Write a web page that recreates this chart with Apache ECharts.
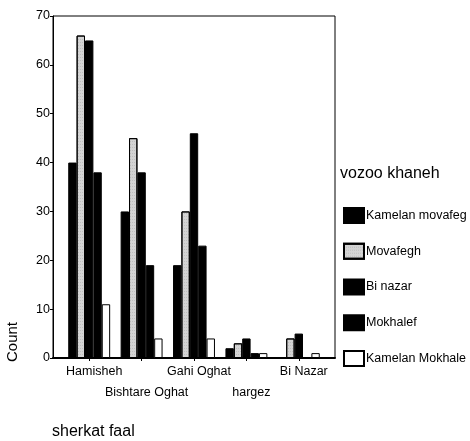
<!DOCTYPE html>
<html>
<head>
<meta charset="utf-8">
<script src="https://cdn.jsdelivr.net/npm/echarts@6/dist/echarts.min.js"></script>
<style>html,body{margin:0;padding:0;background:#fff;}#c{width:470px;height:441px;}</style>
</head>
<body>
<div id="c"></div>
<script>
var categories = ['Hamisheh', 'Bishtare Oghat', 'Gahi Oghat', 'hargez', 'Bi Nazar'];
var seriesNames = ['Kamelan movafeg', 'Movafegh', 'Bi nazar', 'Mokhalef', 'Kamelan Mokhale'];
var kamelanMovafeg = [40, 30, 19, 2, 0];
var movafegh = [66, 45, 30, 3, 4];
var biNazar = [65, 38, 46, 4, 5];
var mokhalef = [38, 19, 23, 1, 0];
var kamelanMokhale = [11, 4, 4, 1, 1];
var yTicks = [0, 10, 20, 30, 40, 50, 60, 70];

var FONT = 'Liberation Sans, Arial, sans-serif';
var seriesData = [kamelanMovafeg, movafegh, biNazar, mokhalef, kamelanMokhale];
var styles = [
  {color: '#000', borderColor: '#000', borderWidth: 1},
  {color: '#d4d4d4', borderColor: '#000', borderWidth: 1,
   decal: {symbol: 'rect', color: 'rgba(90,90,90,0.55)', symbolSize: 0.6, dashArrayX: [1, 1], dashArrayY: [1, 2], rotation: 0}},
  {color: '#000', borderColor: '#000', borderWidth: 1},
  {color: '#000', borderColor: '#000', borderWidth: 1},
  {color: '#fff', borderColor: '#000', borderWidth: 1}
];

var series = seriesNames.map(function (n, i) {
  return {
    name: n, type: 'bar', xAxisIndex: 1, yAxisIndex: 1,
    data: seriesData[i], barGap: '0%', barCategoryGap: '20%',
    itemStyle: styles[i], emphasis: {disabled: true}
  };
});

var chart = echarts.init(document.getElementById('c'), null, {renderer: 'canvas'});
chart.setOption({
  animation: false,
  backgroundColor: '#fff',
  textStyle: {fontFamily: FONT},
  title: [
    {text: 'vozoo khaneh', left: 340, top: 166, padding: 0, textStyle: {fontFamily: FONT, fontSize: 16, fontWeight: 'normal', color: '#000'}},
    {text: 'sherkat faal', left: 52, top: 424, padding: 0, textStyle: {fontFamily: FONT, fontSize: 16, fontWeight: 'normal', color: '#000'}}
  ],
  legend: {
    orient: 'vertical', left: 343, top: 207, itemWidth: 20, itemHeight: 15, itemGap: 18.75,
    padding: 0, icon: 'rect', selectedMode: false,
    textStyle: {fontFamily: FONT, fontSize: 12.5, color: '#000', padding: [0, 0, 0, -3]},
    data: seriesNames
  },
  grid: [
    {left: 53, top: 16, width: 282, height: 342, show: true, borderColor: '#000', borderWidth: 1, containLabel: false},
    {left: 63, top: 16, width: 262, height: 342, containLabel: false}
  ],
  xAxis: [
    {type: 'value', gridIndex: 0, position: 'top', min: 0, max: 1,
     axisLine: {show: true, lineStyle: {color: '#000', width: 2}},
     axisTick: {show: false}, axisLabel: {show: false}, splitLine: {show: false}},
    {type: 'category', gridIndex: 1, data: categories,
     axisLine: {show: false},
     axisTick: {show: true, alignWithLabel: true, length: 3, lineStyle: {color: '#000'}},
     axisLabel: {
       interval: 0, margin: 3, color: '#000', fontFamily: FONT, fontSize: 12.5, lineHeight: 21,
       padding: [0, 0, 0, 10],
       formatter: function (v, i) { return i % 2 === 1 ? '\n' + v : v; }
     },
     splitLine: {show: false}}
  ],
  yAxis: [
    {type: 'value', gridIndex: 0, min: 0, max: 70, interval: 10,
     axisLine: {show: true, lineStyle: {color: '#000', width: 1}},
     axisTick: {show: true, length: 3, lineStyle: {color: '#000'}},
     axisLabel: {margin: 3, color: '#000', fontFamily: FONT, fontSize: 12.5,
       formatter: function (v) { return yTicks.indexOf(v) >= 0 ? String(v) : ''; }},
     splitLine: {show: false}},
    {type: 'value', gridIndex: 1, min: 0, max: 70, interval: 10, show: false, splitLine: {show: false}}
  ],
  graphic: [
    {type: 'text', left: 5, top: 322, rotation: Math.PI / 2,
     style: {text: 'Count', font: '15px ' + FONT, fill: '#000'}}
  ],
  series: series
});
</script>
</body>
</html>
